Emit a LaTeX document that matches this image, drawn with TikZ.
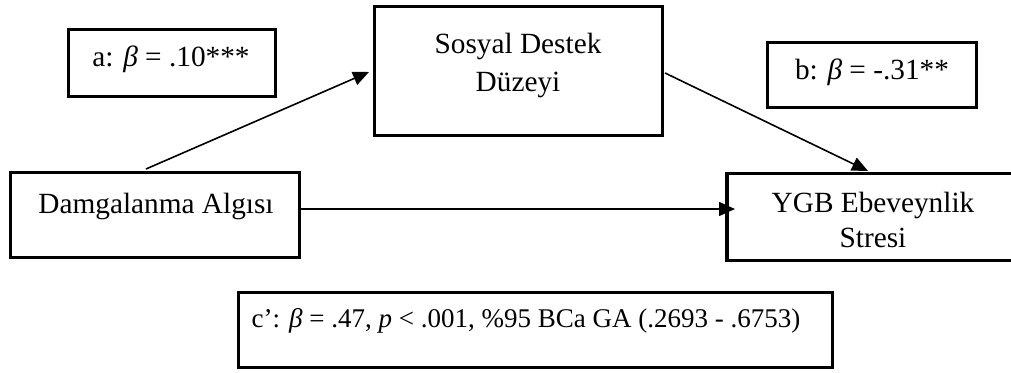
\documentclass[tikz,border=0pt]{standalone}
\usepackage{fontspec}
\setmainfont{Liberation Serif}
\usetikzlibrary{arrows.meta}
\begin{document}
\begin{tikzpicture}[x=1pt,y=-1pt,
  box/.style={draw, line width=3.5pt, inner sep=0pt},
  txt/.style={inner sep=0pt, font=\fontsize{29.3}{38}\selectfont, align=center},
  arr/.style={line width=1.6pt, -{Triangle[length=16pt,width=14pt]}}]
\useasboundingbox (0,0) rectangle (1011,372);
% boxes
\node[box, minimum width=207pt, minimum height=67pt] (abox) at (172,63) {};
\node[box, minimum width=288pt, minimum height=129pt] (sd) at (518.5,71) {};
\node[box, minimum width=209pt, minimum height=65pt] (bbox) at (872,75) {};
\node[box, minimum width=289pt, minimum height=85pt] (dam) at (155,215) {};
\node[box, minimum width=292pt, minimum height=87pt] (ygb) at (873,217) {};
\node[box, minimum width=594pt, minimum height=75pt] (cbox) at (535.5,330) {};
% texts
\node[txt, anchor=base] (atxt) at (171,66) {a: \textit{β} = .10***};
\node[txt, anchor=base] (sdtxt1) at (518,53) {Sosyal Destek};
\node[txt, anchor=base] (sdtxt2) at (518,91) {Düzeyi};
\node[txt, anchor=base] (btxt) at (872,79) {b: \textit{β} = -.31**};
\node[txt, anchor=base] (damtxt) at (156,213) {Damgalanma Algısı};
\node[txt, anchor=base] (ygbtxt1) at (873,212) {YGB Ebeveynlik};
\node[txt, anchor=base] (ygbtxt2) at (873,247) {Stresi};
\node[txt, anchor=base, font=\fontsize{27}{36}\selectfont] (ctxt) at (526,327) {c’: \textit{β} = .47, \textit{p} < .001, \%95 BCa GA (.2693 - .6753)};
% connectors
\coordinate (a0) at (146,169);
\coordinate (a1) at (369,72);
\coordinate (b0) at (665,73);
\coordinate (b1) at (868,171);
\coordinate (c1) at (735,209);
\draw[arr] (a0) -- (a1);
\draw[arr] (b0) -- (b1);
\draw[arr] (dam.east |- c1) -- (c1);
\end{tikzpicture}
\end{document}
